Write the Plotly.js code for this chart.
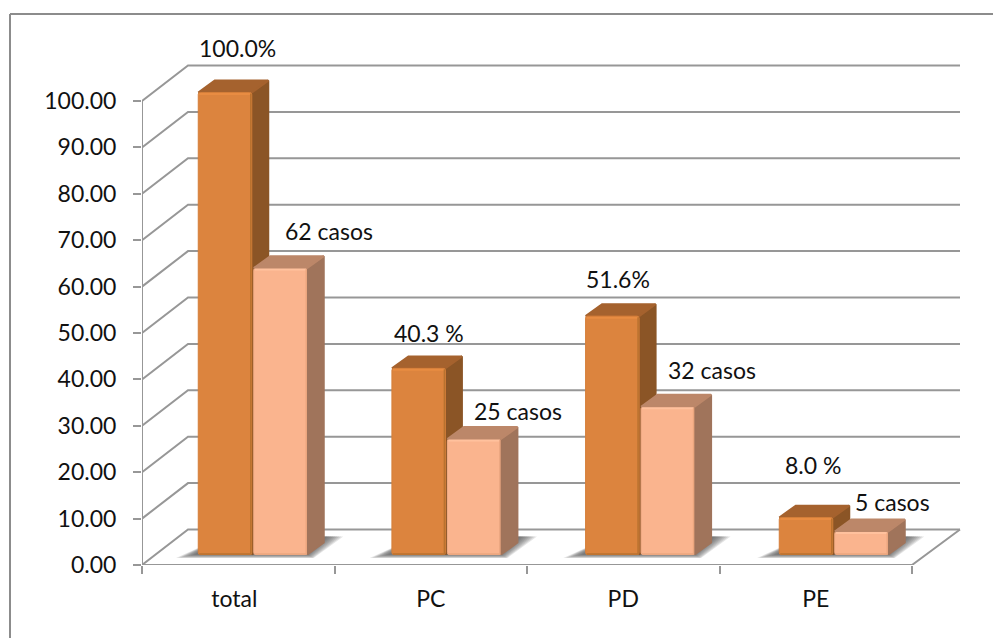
<!DOCTYPE html>
<html>
<head>
<meta charset="utf-8">
<script src="https://cdn.plot.ly/plotly-3.0.1.min.js"></script>
<style>
html,body{margin:0;padding:0;background:#fff;}
#chart{width:993px;height:638px;}
</style>
</head>
<body>
<div id="chart"></div>
<script>
// Chart values
const categories = ['total', 'PC', 'PD', 'PE'];
const percentValues = [100, 40.3, 51.6, 8.0];
const caseValues = [62, 25, 32, 5];
const percentLabels = ['100.0%', '40.3 %', '51.6%', '8.0 %'];
const caseLabels = ['62 casos', '25 casos', '32 casos', '5 casos'];
const valueTicks = [0, 10, 20, 30, 40, 50, 60, 70, 80, 90, 100];

// Pixel scale of the axes and the pseudo-3D projection
const PX_PER_CATEGORY = 192.5, PX_PER_UNIT = 4.64, BAR_PX_PER_UNIT = 4.62;
const px = p => p / PX_PER_CATEGORY;
const pv = p => p / PX_PER_UNIT;
const X_MIN = -0.5, X_MAX = 3.5;
const WALL_DY = pv(35.5);
const WALL_DX_LEFT = px(46), WALL_DX_RIGHT = px(48);
const FLOOR_DX = px(14.5), FLOOR_DY = pv(10.5);
const GROUP_STEP = 193.67 / PX_PER_CATEGORY;
const BAR_DX = px(16.5), BAR_DY = pv(12);
const BAR_W = px(53.5), BAR_GAP = px(2);

const GRID = '#979797';
const ORANGE = {front:'#DC843E', edge:'#D57F3A', side:'#8B5526', top:'#A5622E', light:'#E88C42', dark:'#B9722F'};
const PEACH  = {front:'#FAB48E', edge:'#F2AC86', side:'#A0745B', top:'#BC8769', light:'#FFC19D', dark:'#EBA67F'};

function nullJoin(segments) {
  const xs = [], ys = [];
  segments.forEach(s => { s.forEach(p => { xs.push(p[0]); ys.push(p[1]); }); xs.push(null); ys.push(null); });
  return {x: xs, y: ys};
}

// Walls, floor and axis lines
const gridSegments = [];
valueTicks.forEach(v => {
  gridSegments.push([[X_MIN, v], [X_MIN + WALL_DX_LEFT, v + WALL_DY], [X_MAX + WALL_DX_RIGHT, v + WALL_DY]]);
});
gridSegments.push([[X_MIN, 0], [X_MIN, 100]]);
gridSegments.push([[X_MIN, 0], [X_MAX, 0], [X_MAX + WALL_DX_RIGHT, WALL_DY]]);
const gridLines = nullJoin(gridSegments);

const traces = [];
traces.push({x: gridLines.x, y: gridLines.y, mode: 'lines', xaxis: 'x', yaxis: 'y', cliponaxis: false,
  line: {color: GRID, width: 2}, hoverinfo: 'skip', showlegend: false});

const groupCenter = i => FLOOR_DX + i * GROUP_STEP;
const orangeCenters = categories.map((c, i) => groupCenter(i) - (BAR_W + BAR_GAP) / 2);
const peachCenters = categories.map((c, i) => groupCenter(i) + (BAR_W + BAR_GAP) / 2);

function poly(points, color, xa, ya, lineColor) {
  const pts = points.concat([points[0]]);
  return {x: pts.map(p => p[0]), y: pts.map(p => p[1]), mode: 'lines', fill: 'toself', fillcolor: color,
    line: {color: lineColor || 'rgba(0,0,0,0)', width: lineColor ? 2 : 0}, xaxis: xa, yaxis: ya, cliponaxis: false,
    hoverinfo: 'skip', showlegend: false};
}

// Soft cast shadows on the floor, built from stacked translucent layers
categories.forEach((c, i) => {
  const l = orangeCenters[i] - BAR_W / 2, r = peachCenters[i] + BAR_W / 2;
  const y0 = FLOOR_DY;
  for (let k = 0; k < 9; k++) {
    const grow = 8 - k;
    traces.push(poly([
      [l - px(3 + grow * 2.4), y0 - pv(grow * 0.45)],
      [r + px(grow * 0.8), y0 - pv(grow * 0.45)],
      [r + px(20 + grow * 2), y0 + pv(18)],
      [l + px(25), y0 + pv(18)]
    ], 'rgba(80,80,80,0.15)', 'x', 'y'));
  }
});

function sideAndTop(center, value, colors, xa, ya) {
  const l = center - BAR_W / 2, r = center + BAR_W / 2;
  const top = FLOOR_DY + value, base = FLOOR_DY;
  return [
    poly([[r, base], [r + BAR_DX, base + BAR_DY], [r + BAR_DX, top + BAR_DY], [r, top]], colors.side, xa, ya, colors.side),
    poly([[l, top], [l + BAR_DX, top + BAR_DY], [r + BAR_DX, top + BAR_DY], [r, top]], colors.top, xa, ya, colors.top)
  ];
}

// Thin bevel highlights along the edges of a front face
function bevel(centers, values, colors) {
  const lightSeg = [], darkSeg = [];
  centers.forEach((cx, i) => {
    const l = cx - BAR_W / 2, r = cx + BAR_W / 2, top = FLOOR_DY + values[i];
    lightSeg.push([[l + px(1), top - pv(1.5)], [r - px(1), top - pv(1.5)]]);
    darkSeg.push([[l + px(1), FLOOR_DY + pv(0.5)], [r - px(1), FLOOR_DY + pv(0.5)], [r - px(1), top - pv(1)]]);
  });
  const a = nullJoin(lightSeg), b = nullJoin(darkSeg);
  const base = {mode: 'lines', xaxis: 'x3', yaxis: 'y3', cliponaxis: false, hoverinfo: 'skip', showlegend: false};
  return [
    Object.assign({}, base, {x: a.x, y: a.y, line: {color: colors.light, width: 2}}),
    Object.assign({}, base, {x: b.x, y: b.y, line: {color: colors.dark, width: 1.5}})
  ];
}

// Rear faces of the orange columns go under the peach front faces
orangeCenters.forEach((cx, i) => sideAndTop(cx, percentValues[i], ORANGE, 'x2', 'y2').forEach(t => traces.push(t)));

// Front faces
traces.push({type: 'bar', x: orangeCenters, y: percentValues, base: FLOOR_DY, width: BAR_W, xaxis: 'x3', yaxis: 'y3',
  marker: {color: ORANGE.front, line: {color: ORANGE.edge, width: 1}}, hoverinfo: 'skip', showlegend: false});
traces.push({type: 'bar', x: peachCenters, y: caseValues, base: FLOOR_DY, width: BAR_W, xaxis: 'x3', yaxis: 'y3',
  marker: {color: PEACH.front, line: {color: PEACH.edge, width: 1}}, hoverinfo: 'skip', showlegend: false});
peachCenters.forEach((cx, i) => sideAndTop(cx, caseValues[i], PEACH, 'x3', 'y3').forEach(t => traces.push(t)));
bevel(orangeCenters, percentValues, ORANGE).forEach(t => traces.push(t));
bevel(peachCenters, caseValues, PEACH).forEach(t => traces.push(t));

// Value labels: nudges in pixels relative to the front top of each column
const percentNudge = [[12.5, 45], [10, 35], [6, 37], [7, 53]];
const caseNudge = [[48, 37], [44, 28], [44, 37], [31, 29]];
const labelFont = {family: 'Lato, sans-serif', size: 23, color: '#111'};
const annotations = [];
categories.forEach((c, i) => {
  annotations.push({xref: 'x3', yref: 'y3', x: orangeCenters[i], y: FLOOR_DY + percentValues[i], text: percentLabels[i],
    showarrow: false, xshift: percentNudge[i][0], yshift: percentNudge[i][1], font: labelFont});
  annotations.push({xref: 'x3', yref: 'y3', x: peachCenters[i], y: FLOOR_DY + caseValues[i], text: caseLabels[i],
    showarrow: false, xshift: caseNudge[i][0], yshift: caseNudge[i][1], font: labelFont});
});

const xRange = [X_MIN, X_MIN + 820 / PX_PER_CATEGORY];
const yRange = [0, 505 / PX_PER_UNIT];
const barRange = [0, 505 / BAR_PX_PER_UNIT];
const hidden = {visible: false, fixedrange: true};

const layout = {
  width: 993, height: 638,
  margin: {l: 142, r: 31, t: 60, b: 73, pad: 0},
  paper_bgcolor: '#fff', plot_bgcolor: 'rgba(0,0,0,0)',
  showlegend: false, barmode: 'overlay', barcornerradius: 2, annotations,
  font: labelFont,
  xaxis: {range: xRange, tickmode: 'array', tickvals: [-0.5, 0.5, 1.5, 2.5, 3.5], ticktext: ['', '', '', '', ''],
    ticks: 'outside', ticklen: 8, tickwidth: 2, tickcolor: GRID, showgrid: false, zeroline: false, showline: false, fixedrange: true},
  xaxis2: Object.assign({}, hidden, {range: xRange, overlaying: 'x', anchor: 'y2'}),
  xaxis3: {range: xRange, overlaying: 'x', anchor: 'y', tickmode: 'array', tickvals: [-0.02, 1, 2, 3], ticktext: categories,
    ticks: '', side: 'bottom', showgrid: false, zeroline: false, showline: false, fixedrange: true, ticklabelstandoff: 18,
    tickfont: labelFont},
  yaxis: {range: yRange, tickmode: 'array', tickvals: valueTicks, tickformat: '.2f', ticks: 'outside', ticklen: 8, tickwidth: 2,
    tickcolor: GRID, showgrid: false, zeroline: false, showline: false, fixedrange: true, ticklabelstandoff: 12, tickfont: labelFont},
  yaxis2: Object.assign({}, hidden, {range: barRange, overlaying: 'y', anchor: 'x2'}),
  yaxis3: Object.assign({}, hidden, {range: barRange, overlaying: 'y', anchor: 'x3'}),
  shapes: [
    {type: 'line', xref: 'paper', yref: 'paper', x0: -132 / 820, x1: -132 / 820, y0: (638 - 73 - 14) / 505, y1: -73 / 505,
      line: {color: '#8c8c8c', width: 2}},
    {type: 'line', xref: 'paper', yref: 'paper', x0: -132 / 820, x1: 851 / 820, y0: (638 - 73 - 14) / 505, y1: (638 - 73 - 14) / 505,
      line: {color: '#8c8c8c', width: 2}}
  ]
};

Plotly.newPlot('chart', traces, layout, {displayModeBar: false, staticPlot: true});
</script>
</body>
</html>
